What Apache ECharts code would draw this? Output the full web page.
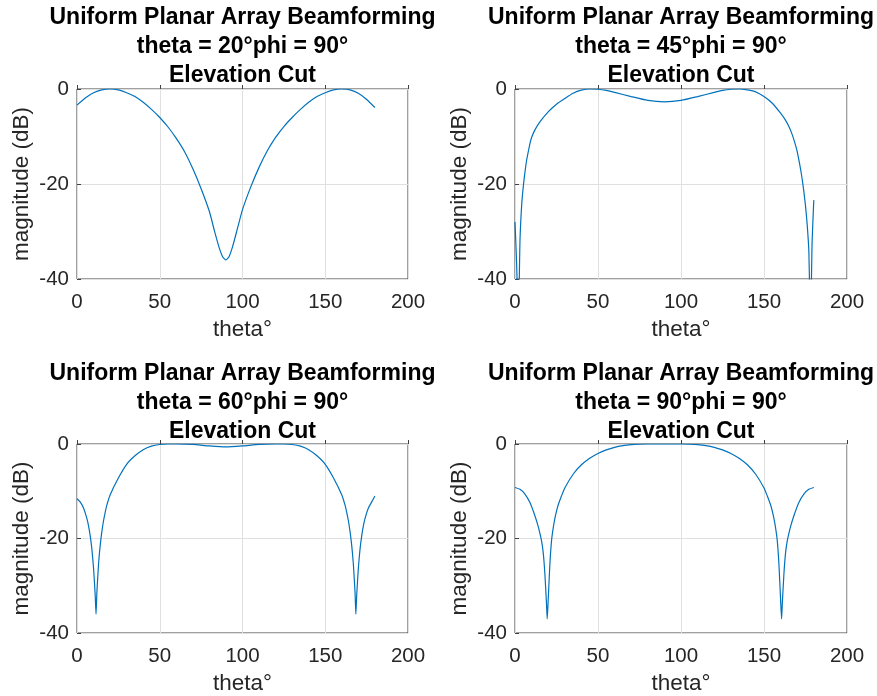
<!DOCTYPE html>
<html><head><meta charset="utf-8">
<script src="https://cdn.jsdelivr.net/npm/echarts@6.0.0/dist/echarts.min.js"></script>
<style>html,body{margin:0;padding:0;background:#fff}#c{width:877px;height:696px}</style>
</head><body><div id="c"></div>
<script>
// ---- data ----
const xTickValues = [0, 50, 100, 150, 200];
const yTickValues = [-40, -20, 0];
const titleLine1 = 'Uniform Planar Array Beamforming';
const steerLabels = ['theta = 20°phi = 90°', 'theta = 45°phi = 90°', 'theta = 60°phi = 90°', 'theta = 90°phi = 90°'];
const titleLine3 = 'Elevation Cut';
const xLabel = 'theta°';
const yLabel = 'magnitude (dB)';

const theta1 = [0,5,10,15,20,25,30,35,40,45,50,55,60,65,70,75,80,83,86,88,90,92,94,97,100,105,110,115,120,125,130,135,140,145,150,155,160,165,170,175,180];
const mag1   = [-3.4,-1.9,-0.8,-0.2,0,-0.2,-0.8,-1.6,-2.8,-4.3,-6.0,-8.0,-10.4,-13.2,-16.8,-21.0,-25.8,-29.8,-33.5,-35.3,-36.0,-35.2,-33.2,-29.3,-25.4,-20.6,-16.5,-13.0,-10.2,-7.9,-6.0,-4.3,-2.8,-1.6,-0.8,-0.2,0,-0.2,-0.9,-2.2,-3.9];

const theta2 = [0,1,2,3,4,5,6,7,8,9,10,12,15,20,25,30,35,40,45,50,55,60,70,80,90,100,110,120,125,130,135,140,145,150,155,160,163,165,167,169,170,171,172,173,174,175,176,177,178,179,180];
const mag2   = [-28,-37,-50,-32,-24.5,-20.5,-17.5,-15.0,-13.2,-11.5,-10.2,-8.6,-6.9,-4.8,-3.2,-2.0,-0.9,-0.25,0,-0.05,-0.3,-0.7,-1.6,-2.4,-2.7,-2.4,-1.6,-0.7,-0.3,-0.05,0,-0.2,-0.6,-1.6,-3.0,-5.1,-6.6,-7.9,-9.6,-11.8,-13.2,-14.9,-16.8,-19.0,-21.6,-24.6,-28.5,-34,-50,-32,-23.4];

const theta3 = [0,2,4,6,7,8,9,10,11,11.5,12,13,14,15,16,17,18,20,25,30,35,40,45,50,55,60,70,80,90,100,110,120,125,130,135,140,145,150,155,160,162,163,164,165,166,167,168,168.5,169,170,171,172,173,174,176,178,180];
const mag3   = [-11.6,-12.3,-13.6,-15.8,-17.4,-19.5,-22.3,-26.3,-32.0,-36,-31.5,-25.5,-21.5,-18.6,-16.3,-14.5,-13.0,-10.8,-7.2,-4.3,-2.5,-1.2,-0.45,-0.1,0,0,-0.1,-0.4,-0.6,-0.4,-0.1,0,0,-0.1,-0.45,-1.2,-2.5,-4.3,-7.2,-10.8,-13.0,-14.5,-16.3,-18.6,-21.5,-25.5,-31.5,-36,-32.0,-26.3,-22.3,-19.5,-17.4,-15.8,-13.6,-12.3,-11.0];

const theta4 = [0,3,6,9,12,14,15,16,17,18,19,19.4,20,21,22,23,24,25,26,28,30,35,40,45,50,55,60,65,70,75,80,90,100,105,110,115,120,125,130,135,140,145,150,152,154,155,156,157,158,159,160,160.6,161,162,163,164,165,166,168,171,174,177,180];
const mag4   = [-9.2,-9.6,-10.6,-12.4,-15.2,-17.5,-18.9,-20.5,-23,-27.5,-34,-37,-33,-25.5,-20.5,-17.8,-15.8,-14.2,-12.9,-11.0,-9.3,-6.4,-4.4,-3.0,-2.0,-1.25,-0.7,-0.35,-0.15,-0.05,0,0,0,-0.05,-0.15,-0.35,-0.7,-1.25,-2.0,-3.0,-4.4,-6.4,-9.3,-11.0,-12.9,-14.2,-15.8,-17.8,-20.5,-25.5,-33,-37,-34,-27.5,-23,-20.5,-18.9,-17.5,-15.2,-12.4,-10.6,-9.6,-9.2];

const allTheta = [theta1, theta2, theta3, theta4];
const allMag = [mag1, mag2, mag3, mag4];

// ---- layout ----
const FONT = "'Liberation Sans', Arial, Helvetica, sans-serif";
const AX = '#404040';
const grids = [
  {left: 77, top: 89, width: 331, height: 190},
  {left: 515, top: 89, width: 332, height: 190},
  {left: 77, top: 444, width: 331, height: 190},
  {left: 515, top: 444, width: 332, height: 190}
];
const titleTops = [3.5, 3.5, 359.5, 359.5];

const xRange = {type: 'value', min: xTickValues[0], max: xTickValues[xTickValues.length - 1], interval: xTickValues[1] - xTickValues[0]};
const yRange = {type: 'value', min: yTickValues[0], max: yTickValues[yTickValues.length - 1], interval: yTickValues[1] - yTickValues[0]};
const tick = {show: true, inside: true, length: 4, lineStyle: {color: AX}};

const xAxes = grids.map((g, i) => Object.assign({
  gridIndex: i, position: 'bottom',
  name: xLabel, nameLocation: 'middle', nameGap: 39,
  nameTextStyle: {fontFamily: FONT, fontSize: 22.5, color: '#262626'},
  axisLine: {show: false}, axisTick: tick,
  axisLabel: {fontFamily: FONT, fontSize: 20.5, color: '#262626', margin: 13, showMaxLabel: true, showMinLabel: true},
  splitLine: {show: true, lineStyle: {color: '#e0e0e0', width: 1}}
}, xRange));
const yAxes = grids.map((g, i) => Object.assign({
  gridIndex: i, position: 'left',
  name: yLabel, nameLocation: 'middle', nameGap: 44,
  nameTextStyle: {fontFamily: FONT, fontSize: 22.5, color: '#262626'},
  axisLine: {show: false}, axisTick: tick,
  axisLabel: {fontFamily: FONT, fontSize: 20.5, color: '#262626', margin: 8, showMaxLabel: true, showMinLabel: true},
  splitLine: {show: true, lineStyle: {color: '#e0e0e0', width: 1}}
}, yRange));

const option = {
  backgroundColor: '#fff',
  animation: false,
  title: grids.map((g, i) => ({
    text: titleLine1 + '\n' + steerLabels[i] + '\n' + titleLine3,
    left: g.left + g.width / 2,
    top: titleTops[i],
    textAlign: 'center',
    padding: 0,
    textStyle: {fontFamily: FONT, fontSize: 23, fontWeight: 'bold', color: '#000', lineHeight: 29, align: 'center'}
  })),
  grid: grids.map(g => Object.assign({show: true, borderColor: AX, borderWidth: 1, backgroundColor: '#fff', containLabel: false}, g)),
  xAxis: xAxes,
  yAxis: yAxes,
  series: allTheta.map((th, i) => ({
    type: 'line', xAxisIndex: i, yAxisIndex: i,
    data: th.map((t, k) => [t, allMag[i][k]]),
    showSymbol: false, symbol: 'none', smooth: 0.2, clip: true,
    lineStyle: {color: '#0072BD', width: 1.2}
  }))
};

const chart = echarts.init(document.getElementById('c'), null, {renderer: 'canvas'});
chart.setOption(option);
</script>
</body></html>
